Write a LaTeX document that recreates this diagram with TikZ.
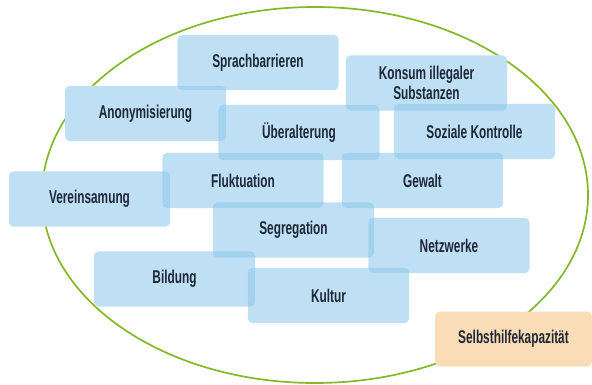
\documentclass[tikz,border=0pt]{standalone}
\usepackage{fontspec}
\setmainfont{Liberation Sans}[FakeStretch=0.64]
\usetikzlibrary{backgrounds}
\definecolor{kachelblau}{RGB}{140,200,235}
\definecolor{textblau}{RGB}{30,40,55}
\definecolor{kreisgruen}{RGB}{130,185,40}
\definecolor{hilfeorange}{RGB}{250,221,182}
\tikzset{
  kachel/.style={rounded corners=5pt,minimum width=161pt,minimum height=55pt,
    inner sep=2pt,align=center,text=textblau,font=\fontsize{18.5}{19.5}\selectfont\bfseries},
  hilfe/.style={kachel,fill=hilfeorange,minimum width=157pt}
}
\begin{document}
\begin{tikzpicture}[x=1pt,y=-1pt]
  \useasboundingbox (0,0) rectangle (592,385);
  \node[kachel] (sprache) at (258,62.5) {Sprachbarrieren};
  \node[kachel] (anonym) at (145.5,113.5) {Anonymisierung};
  \node[kachel] (ueber) at (299,132.5) {Überalterung};
  \node[kachel] (konsum) at (426.5,83) {Konsum illegaler\\Substanzen};
  \node[kachel] (sozial) at (474.5,131.5) {Soziale Kontrolle};
  \node[kachel] (flukt) at (243,180.5) {Fluktuation};
  \node[kachel] (verein) at (89.5,199) {Vereinsamung};
  \node[kachel] (gewalt) at (422.5,180.5) {Gewalt};
  \node[kachel] (segreg) at (293.5,230) {Segregation};
  \node[kachel] (netz) at (449,245.5) {Netzwerke};
  \node[kachel] (bildung) at (174.5,279) {Bildung};
  \node[kachel] (kultur) at (328.5,295.5) {Kultur};
  \begin{scope}[on background layer]
    \draw[kreisgruen,line width=1.7pt] (315,195) ellipse [x radius=273,y radius=188];
    \foreach \k in {sprache,anonym,ueber,konsum,sozial,flukt,verein,gewalt,segreg,netz,bildung,kultur}
      \fill[white,rounded corners=5pt] (\k.south west) rectangle (\k.north east);
    \foreach \k in {sprache,anonym,ueber,konsum,sozial,flukt,verein,gewalt,segreg,netz,bildung,kultur}
      \fill[kachelblau,opacity=.55,rounded corners=5pt] (\k.south west) rectangle (\k.north east);
  \end{scope}
  \node[hilfe] (selbst) at (513.5,339) {Selbsthilfekapazität};
\end{tikzpicture}
\end{document}
